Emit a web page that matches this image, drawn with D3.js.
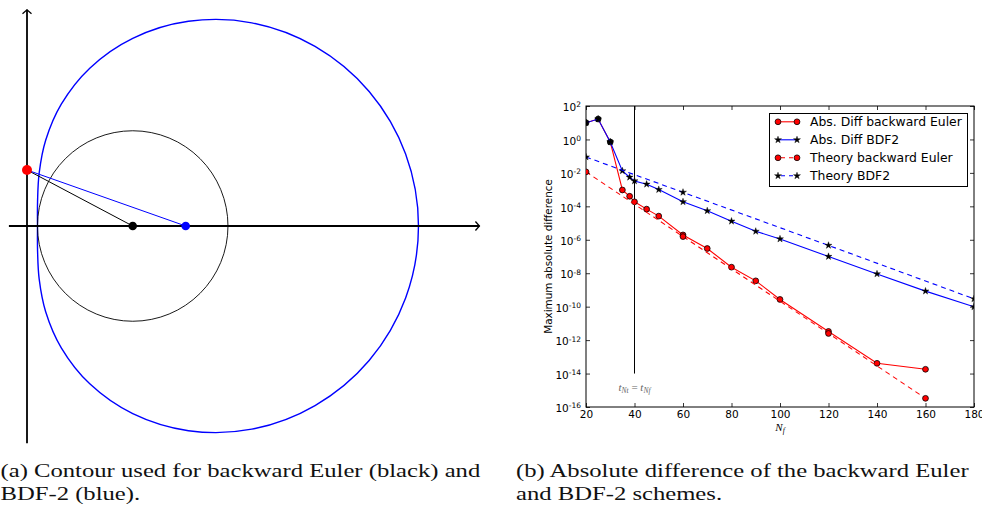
<!DOCTYPE html>
<html lang="en">
<head>
<meta charset="UTF-8">
<title>Contour and absolute difference</title>
<script src="https://cdn.jsdelivr.net/npm/d3@7"></script>
<style>
  body { margin: 0; background: #fff; }
  svg { display: block; }
  .tick text { font-family: "DejaVu Sans", sans-serif; font-size: 10.5px; fill: #000; }
  .caption { font-family: "Liberation Serif", "DejaVu Serif", serif; fill: #111; }
</style>
</head>
<body>
<svg id="fig" width="982" height="506"></svg>
<script>
// ---------- panel (a): contour sketch, complex plane units ----------
const bdf2Re = [0.11, 0.111, 0.128, 0.196, 0.36, 0.659, 1.11, 1.695, 2.36, 3.024, 3.592, 3.975, 4.11];
const bdf2Im = [0, 0.264, 0.558, 0.900, 1.279, 1.657, 1.970, 2.149, 2.133, 1.885, 1.412, 0.756, 0]; // upper half, curve is symmetric
const beCenter = 1.11, beRadius = 1.0;
const dots = [
  {re: 0, im: 0.588, color: "#ff0000"},
  {re: 1.11, im: 0, color: "#000000"},
  {re: 1.666, im: 0, color: "#0000ff"}
];
const rays = [
  {from: 0, to: 1, color: "#000"},
  {from: 0, to: 2, color: "#0000ff"}
];
const reAxisRange = [-0.19, 4.75], imAxisRange = [-2.28, 2.27];

// ---------- panel (b): convergence data ----------
const nBE     = [20, 25, 30, 35, 38, 40, 45, 50, 60, 70, 80, 90, 100, 120, 140, 160];
const absBE   = [10, 16.6, 0.708, 9.5e-4, 4.0e-4, 1.86e-4, 6.8e-5, 2.6e-5, 1.95e-6, 3.0e-7, 2.3e-8, 3.5e-9, 2.7e-10, 3.3e-12, 4.1e-14, 1.8e-14];
const nBDF2   = [20, 25, 30, 35, 38, 40, 45, 50, 60, 70, 80, 90, 100, 120, 140, 160, 180];
const absBDF2 = [10, 16.6, 0.708, 1.32e-2, 5.5e-3, 3.3e-3, 2.1e-3, 1.0e-3, 1.86e-4, 5.4e-5, 1.29e-5, 3.2e-6, 1.12e-6, 1.0e-7, 9.1e-9, 8.5e-10, 9.8e-11];
const nThBE   = [20, 60, 120, 160];
const thBE    = [1.15e-2, 1.55e-6, 2.5e-12, 3.3e-16];
const nThBDF2 = [20, 60, 120, 180];
const thBDF2  = [8.9e-2, 6.9e-4, 4.6e-7, 2.95e-10];
const xTicks = [20, 40, 60, 80, 100, 120, 140, 160, 180];
const yTickExp = [2, 0, -2, -4, -6, -8, -10, -12, -14, -16];
const legendLabels = ["Abs. Diff backward Euler", "Abs. Diff BDF2", "Theory backward Euler", "Theory BDF2"];
const crossN = 40, crossTop = 1e2, crossBottom = 1e-14, crossLabelAt = 1.5e-15;

const captionA = ["(a) Contour used for backward Euler (black) and", "BDF-2 (blue)."];
const captionB = ["(b) Absolute difference of the backward Euler", "and BDF-2 schemes."];

const svg = d3.select("#fig");

// ===== panel (a) =====
const unit = 95.25;
const sx = d3.scaleLinear().domain([0, 1]).range([27, 27 + unit]);
const sy = d3.scaleLinear().domain([0, 1]).range([226, 226 - unit]);
const gA = svg.append("g");

// closed contour: upper half then mirrored lower half
let contour = bdf2Re.map((r, i) => [r, bdf2Im[i]]);
let lower = contour.slice(1, -1).reverse().map(p => [p[0], -p[1]]);
contour = contour.concat(lower);

gA.append("path")
  .attr("d", d3.line().x(d => sx(d[0])).y(d => sy(d[1])).curve(d3.curveCatmullRomClosed)(contour))
  .attr("fill", "none").attr("stroke", "#0000ff").attr("stroke-width", 1.4);

gA.append("circle")
  .attr("cx", sx(beCenter)).attr("cy", sy(0)).attr("r", sx(beRadius) - sx(0))
  .attr("fill", "none").attr("stroke", "#000").attr("stroke-width", 0.9);

// axes with open arrow heads
gA.append("line").attr("x1", sx(reAxisRange[0])).attr("x2", sx(reAxisRange[1]))
  .attr("y1", sy(0)).attr("y2", sy(0)).attr("stroke", "#000").attr("stroke-width", 1.8);
gA.append("line").attr("x1", sx(0)).attr("x2", sx(0))
  .attr("y1", sy(imAxisRange[0])).attr("y2", sy(imAxisRange[1])).attr("stroke", "#000").attr("stroke-width", 1.8);
gA.append("path")
  .attr("d", `M${sx(reAxisRange[1]) - 4},${sy(0) - 4.5}L${sx(reAxisRange[1])},${sy(0)}L${sx(reAxisRange[1]) - 4},${sy(0) + 4.5}`)
  .attr("fill", "none").attr("stroke", "#000").attr("stroke-width", 1.3);
gA.append("path")
  .attr("d", `M${sx(0) - 4.5},${sy(imAxisRange[1]) + 4}L${sx(0)},${sy(imAxisRange[1])}L${sx(0) + 4.5},${sy(imAxisRange[1]) + 4}`)
  .attr("fill", "none").attr("stroke", "#000").attr("stroke-width", 1.3);

rays.forEach(r => {
  gA.append("line")
    .attr("x1", sx(dots[r.from].re)).attr("y1", sy(dots[r.from].im))
    .attr("x2", sx(dots[r.to].re)).attr("y2", sy(dots[r.to].im))
    .attr("stroke", r.color).attr("stroke-width", 1);
});

gA.selectAll(".dot").data(dots).enter().append("circle")
  .attr("cx", d => sx(d.re)).attr("cy", d => sy(d.im))
  .attr("r", (d, i) => i === 0 ? 5 : 4.3)
  .attr("fill", d => d.color);

// ===== panel (b) =====
const plot = {left: 586, right: 974, top: 106, bottom: 407};
const x = d3.scaleLinear().domain([20, 180]).range([plot.left, plot.right]);
const y = d3.scaleLog().domain([1e-16, 1e2]).range([plot.bottom, plot.top]);
const gB = svg.append("g");

gB.append("clipPath").attr("id", "clip").append("rect")
  .attr("x", plot.left).attr("y", plot.top)
  .attr("width", plot.right - plot.left).attr("height", plot.bottom - plot.top);

const yTicks = yTickExp.map(e => Math.pow(10, e));

gB.append("g").attr("transform", `translate(0,${plot.bottom})`)
  .call(d3.axisBottom(x).tickValues(xTicks).tickSize(-4).tickPadding(4).tickFormat(d3.format("d")))
  .call(g => g.select(".domain").remove());
gB.append("g").attr("transform", `translate(0,${plot.top})`)
  .call(d3.axisTop(x).tickValues(xTicks).tickSize(-4).tickFormat(""))
  .call(g => g.select(".domain").remove());
const yAx = gB.append("g").attr("transform", `translate(${plot.left},0)`)
  .call(d3.axisLeft(y).tickValues(yTicks).tickSize(-4).tickPadding(5).tickFormat(""))
  .call(g => g.select(".domain").remove());
yAx.selectAll(".tick text").attr("dy", "0.45em").each(function(d, i) {
  const t = d3.select(this);
  t.append("tspan").text("10");
  t.append("tspan").attr("dy", "-0.5em").attr("font-size", "7.5px").text(String(yTickExp[i]));
});
gB.append("g").attr("transform", `translate(${plot.right},0)`)
  .call(d3.axisRight(y).tickValues(yTicks).tickSize(-4).tickFormat(""))
  .call(g => g.select(".domain").remove());
gB.selectAll(".tick line").attr("stroke", "#000").attr("stroke-width", 0.8);

gB.append("rect")
  .attr("x", plot.left).attr("y", plot.top)
  .attr("width", plot.right - plot.left).attr("height", plot.bottom - plot.top)
  .attr("fill", "none").attr("stroke", "#000").attr("stroke-width", 1);

// vertical marker line at N = 40
gB.append("line")
  .attr("x1", x(crossN)).attr("x2", x(crossN))
  .attr("y1", y(crossTop)).attr("y2", y(crossBottom))
  .attr("stroke", "#000").attr("stroke-width", 1);

const lbl = gB.append("text")
  .attr("x", x(crossN)).attr("y", y(crossLabelAt)).attr("dy", "0.35em")
  .attr("text-anchor", "middle")
  .attr("font-family", "Liberation Serif, serif").attr("font-style", "italic")
  .attr("font-size", "11px").attr("fill", "#666");
lbl.append("tspan").text("t");
lbl.append("tspan").attr("dy", 2).attr("font-size", "7.5px").text("Nt");
lbl.append("tspan").attr("dy", -2).attr("font-style", "normal").text(" = ");
lbl.append("tspan").text("t");
lbl.append("tspan").attr("dy", 2).attr("font-size", "7.5px").text("Nf");

const data = gB.append("g").attr("clip-path", "url(#clip)");
const line = d3.line().x(d => x(d[0])).y(d => y(d[1]));
const star = d3.symbol(d3.symbolStar, 15);

const series = [
  {n: nBE, v: absBE, color: "#ff0000", dash: null, mark: "circle"},
  {n: nBDF2, v: absBDF2, color: "#0000ff", dash: null, mark: "star"},
  {n: nThBE, v: thBE, color: "#ff0000", dash: "5,4", mark: "circle"},
  {n: nThBDF2, v: thBDF2, color: "#0000ff", dash: "5,4", mark: "star"}
];

function drawMarker(g, mark, cx, cy, fill) {
  if (mark === "circle") {
    g.append("circle").attr("cx", cx).attr("cy", cy).attr("r", 2.9)
      .attr("fill", fill).attr("stroke", "#000").attr("stroke-width", 0.8);
  } else {
    g.append("path").attr("d", star).attr("transform", `translate(${cx},${cy})`)
      .attr("fill", "#000").attr("stroke", "#000").attr("stroke-width", 0.4);
  }
}

series.forEach((s, k) => {
  const pts = s.n.map((n, i) => [n, s.v[i]]);
  data.append("path").attr("d", line(pts))
    .attr("fill", "none").attr("stroke", s.color).attr("stroke-width", 1.1)
    .attr("stroke-dasharray", s.dash);
  pts.forEach(p => {
    // circles hidden under the BDF2 markers render dark where both series coincide
    let fill = "#ff0000";
    if (k === 0) {
      const j = nBDF2.indexOf(p[0]);
      if (j >= 0 && absBDF2[j] === p[1]) fill = "#111";
    }
    drawMarker(data, s.mark, x(p[0]), y(p[1]), fill);
  });
});

// legend
const leg = gB.append("g");
leg.append("rect").attr("x", 769.5).attr("y", 113.5).attr("width", 198).attr("height", 73)
  .attr("fill", "#fff").attr("stroke", "#000").attr("stroke-width", 1);
series.forEach((s, i) => {
  const ly = 121.8 + i * 18;
  leg.append("line").attr("x1", 778).attr("x2", 797).attr("y1", ly).attr("y2", ly)
    .attr("stroke", s.color).attr("stroke-width", 1.1).attr("stroke-dasharray", s.dash ? "4,4" : null)
    .attr("stroke-dashoffset", s.dash ? -3 : null);
  drawMarker(leg, s.mark, 778, ly, "#ff0000");
  drawMarker(leg, s.mark, 797, ly, "#ff0000");
  leg.append("text").attr("x", 810).attr("y", ly).attr("dy", "0.36em")
    .attr("font-family", "DejaVu Sans, sans-serif").attr("font-size", "12.4px")
    .text(legendLabels[i]);
});

// axis titles
gB.append("text")
  .attr("transform", `translate(548,${(plot.top + plot.bottom) / 2}) rotate(-90)`)
  .attr("text-anchor", "middle").attr("dy", "0.35em")
  .attr("font-family", "DejaVu Sans, sans-serif").attr("font-size", "10.4px")
  .text("Maximum absolute difference");
const xl = gB.append("text")
  .attr("x", (plot.left + plot.right) / 2).attr("y", 431)
  .attr("text-anchor", "middle")
  .attr("font-family", "Liberation Serif, serif").attr("font-style", "italic").attr("font-size", "11px");
xl.append("tspan").text("N");
xl.append("tspan").attr("dy", 2).attr("font-size", "7.5px").text("f");

// ===== captions: serif text widened horizontally to the wide look of the original =====
const capSize = 18;
const probe = svg.append("text").attr("class", "caption").attr("font-size", capSize + "px").text(captionA[0]);
const stretch = 480 / probe.node().getComputedTextLength();
probe.remove();

function caption(lines, x0) {
  const g = svg.append("g").attr("transform", `translate(${x0},0) scale(${stretch},1)`);
  lines.forEach((t, i) => {
    g.append("text").attr("class", "caption")
      .attr("x", 0).attr("y", 477 + i * 23)
      .attr("font-size", capSize + "px").text(t);
  });
}
caption(captionA, 0.5);
caption(captionB, 516);
</script>
</body>
</html>
